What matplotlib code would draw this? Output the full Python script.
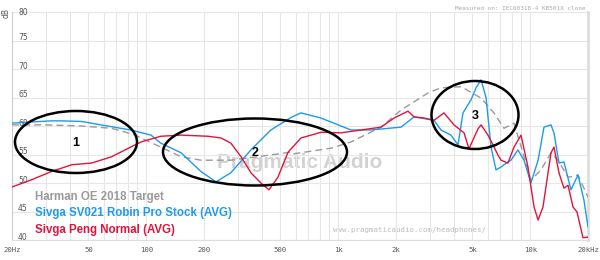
import matplotlib
matplotlib.use("Agg")
import matplotlib.pyplot as plt
from matplotlib.patches import Ellipse
from matplotlib.ticker import FixedLocator, NullFormatter

# ---------------- data ----------------
target_freq = [20, 30, 46, 66, 88, 94, 119, 152, 193, 276, 568, 580, 917, 1166, 1671,
               2124, 2937, 3430, 4364, 5546, 6476, 7303, 8236, 9163, 10090, 11380,
               12830, 13960, 15740, 17740, 20000]
target_db = [60.2, 60.2, 60.0, 59.6, 58.4, 57.9, 56.3, 54.6, 54.0, 54.0, 55.4, 55.1,
             56.1, 57.2, 59.8, 62.8, 65.8, 66.7, 66.9, 64.9, 62.3, 59.6, 60.5, 55.3,
             50.5, 52.3, 55.3, 54.0, 51.0, 51.4, 47.5]

blue_freq = [20, 25, 32, 36, 46, 58, 83, 106, 119, 152, 193, 231, 276, 351, 446, 568,
             640, 813, 1166, 1483, 2124, 2483, 2698, 3156, 3430, 3864, 4208, 4467, 4919,
             5224, 5546, 5888, 6252, 6634, 7046, 7303, 7940, 8632, 9286, 10090, 10990,
             11800, 12830, 13300, 14120, 14990, 16300, 17740, 19050, 20000]
blue_db = [60.5, 60.7, 60.9, 60.9, 60.8, 60.2, 59.3, 58.4, 57.0, 55.3, 52.0, 50.2,
           51.8, 55.8, 59.3, 61.5, 62.3, 61.4, 59.3, 59.3, 59.8, 61.6, 61.4, 61.0, 59.3,
           58.4, 56.7, 62.3, 64.6, 66.7, 68.1, 65.0, 56.3, 52.3, 52.8, 53.2, 54.0, 55.8,
           54.0, 50.0, 54.0, 59.8, 60.2, 58.8, 53.5, 53.7, 48.8, 51.4, 47.0, 42.3]

red_freq = [20, 25, 32, 41, 52, 66, 83, 94, 119, 152, 210, 245, 276, 312, 351, 396,
            436, 485, 548, 640, 813, 1035, 1315, 1671, 1954, 2310, 2483, 2798, 3156,
            3557, 4007, 4520, 4798, 5348, 5546, 6027, 6400, 6794, 7046, 7657, 8236, 8954,
            9736, 10470, 10990, 11660, 12830, 13300, 14120, 14990, 15740, 16710, 17540,
            18830, 20000]
red_db = [49.3, 50.5, 52.0, 53.2, 53.5, 54.6, 56.3, 57.2, 58.2, 58.4, 58.2, 57.9,
          57.0, 54.6, 51.8, 50.0, 48.8, 51.0, 55.4, 57.9, 58.9, 58.8, 59.3, 59.8, 61.4,
          62.6, 61.6, 61.4, 61.0, 62.3, 60.2, 58.8, 56.0, 59.5, 60.2, 58.4, 56.7, 54.9,
          54.0, 53.5, 56.3, 58.4, 52.8, 45.8, 43.5, 45.8, 55.3, 56.3, 51.8, 49.1, 49.6,
          45.8, 44.9, 40.4, 40.5]

series_names = ["Harman OE 2018 Target", "Sivga SV021 Robin Pro Stock (AVG)",
                "Sivga Peng Normal (AVG)"]
series_colors = ["#9a9a9a", "#1e9be6", "#e0143c"]

x_ticks = [20, 50, 100, 200, 500, 1000, 2000, 5000, 10000, 20000]
x_tick_labels = ["20Hz", "50", "100", "200", "500", "1k", "2k", "5k", "10k", "20kHz"]
y_ticks = [40, 45, 50, 55, 60, 65, 70, 75, 80]

# ---------------- figure ----------------
fig = plt.figure(figsize=(6.0, 2.6), dpi=100)
fig.patch.set_facecolor("white")
ax = fig.add_axes([12 / 600, 1 - 240 / 260, 576 / 600, 228 / 260])
ax.set_xscale("log")
ax.set_xlim(20, 20000)
ax.set_ylim(40, 80)

minor = [m * d for d in (10, 100, 1000, 10000) for m in range(1, 10)
         if 20 <= m * d <= 20000]
ax.xaxis.set_minor_locator(FixedLocator(minor))
ax.xaxis.set_minor_formatter(NullFormatter())
ax.set_xticks(x_ticks)
ax.set_xticklabels(x_tick_labels, family="DejaVu Sans Mono", fontsize=5.2, color="#555555")
ax.set_yticks(y_ticks)
ax.set_yticklabels([])
ax.tick_params(axis="both", which="both", length=0, pad=5)
ax.grid(True, which="both", axis="x", color="#e6e6e6", lw=0.8)
ax.grid(True, which="major", axis="y", color="#e6e6e6", lw=0.8)
for t in y_ticks:
    ax.text(21.5, t + 0.45 if t < 80 else t - 0.1, f"{t}", fontsize=5.5,
            color="#555555", va="center", ha="left", family="DejaVu Sans")
ax.spines["top"].set_visible(False)
ax.spines["left"].set_color("#cccccc")
ax.spines["bottom"].set_color("#dddddd")
ax.spines["right"].set_color("#dddddd")
ax.spines["right"].set_linewidth(2)

# watermark
ax.text(0.5, 0.34, "Pragmatic Audio", transform=ax.transAxes, fontsize=15,
        fontweight="bold", color="#d2d2d2", ha="center", va="center",
        family="Liberation Sans", zorder=1)
ax.text(0.69, 0.03, "www.pragmaticaudio.com/headphones/", transform=ax.transAxes,
        fontsize=5.3, color="#bbbbbb", ha="center", va="bottom",
        family="DejaVu Sans Mono", zorder=1)

# curves
ax.plot(target_freq, target_db, color=series_colors[0], lw=1.0, ls=(0, (5, 3)), zorder=3)
ax.plot(blue_freq, blue_db, color=series_colors[1], lw=1.0, zorder=4)
ax.plot(red_freq, red_db, color=series_colors[2], lw=1.0, zorder=5)

# legend as coloured text
for i, (name, c) in enumerate(zip(series_names, series_colors)):
    ax.text(0.04, 0.189 - i * 0.072, name, transform=ax.transAxes, fontsize=8.3,
            fontweight="bold", color=c, ha="left", va="center",
            family="Liberation Sans", zorder=6)

# overlay in pixel coords for annotations
ov = fig.add_axes([0, 0, 1, 1])
ov.set_xlim(0, 600)
ov.set_ylim(260, 0)
ov.axis("off")
ov.patch.set_alpha(0)
for (cx, cy, w, h, lab) in [(76, 142, 122, 62, "1"), (255, 152, 184, 67, "2"),
                            (475, 115, 87, 68, "3")]:
    ov.add_patch(Ellipse((cx, cy), w, h, fill=False, ec="black", lw=1.8))
    ov.text(cx, cy + 1, lab, fontsize=9, fontweight="bold", ha="center",
            va="center", family="Liberation Sans")
ov.text(455, 8, "Measured on: IEC60318-4 KB501X clone", fontsize=4.3,
        color="#aaaaaa", family="DejaVu Sans Mono", ha="left", va="center")
ov.text(6, 13, "dB", fontsize=5.5, color="#555555", rotation=90, ha="center",
        va="center")

fig.savefig("out.png", dpi=100)
